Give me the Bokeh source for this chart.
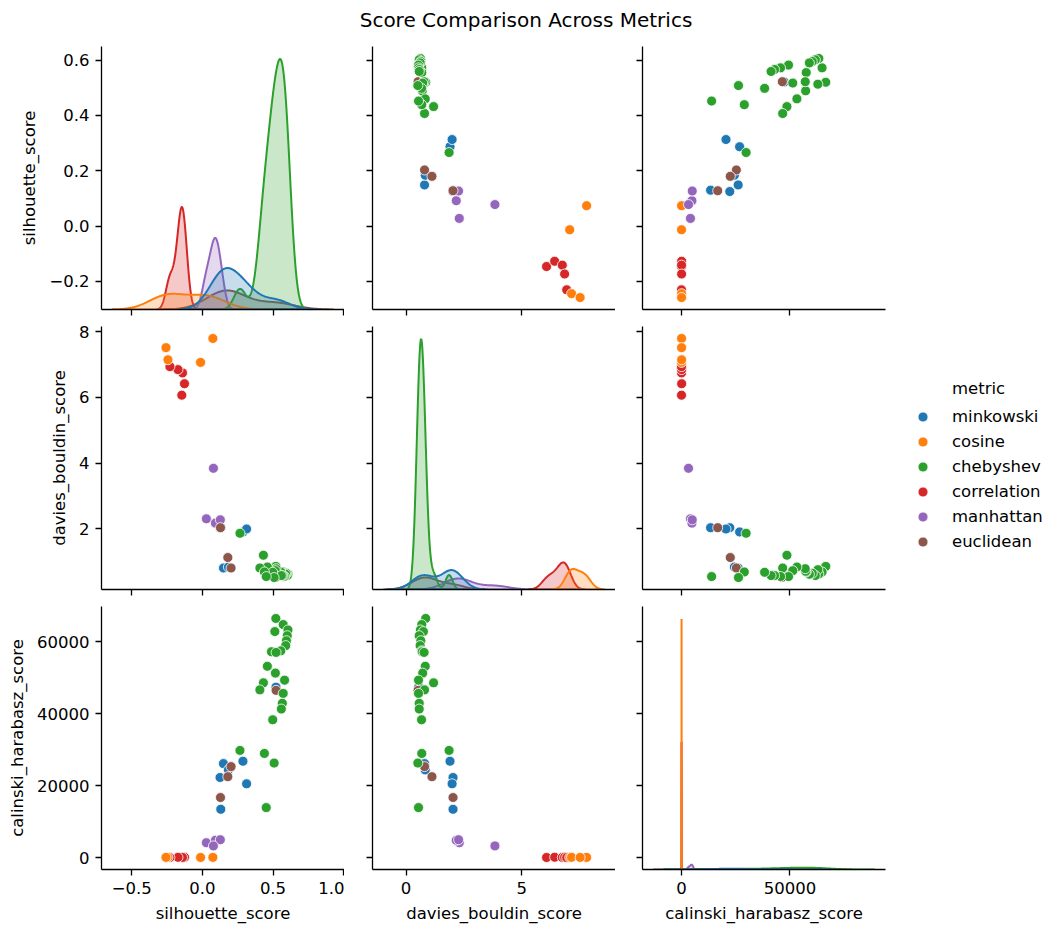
import numpy as np
from bokeh.plotting import figure
from bokeh.models import ColumnDataSource, Range1d, FixedTicker, Legend, LegendItem
from bokeh.layouts import gridplot, column
from bokeh.embed import file_html
from bokeh.resources import INLINE

TITLE = "Score Comparison Across Metrics"
variables = ["silhouette_score", "davies_bouldin_score", "calinski_harabasz_score"]
metrics = ["minkowski", "cosine", "chebyshev", "correlation", "manhattan", "euclidean"]
palette = ["#1f77b4", "#ff7f0e", "#2ca02c", "#d62728", "#9467bd", "#8c564b"]

# ---- data ----
minkowski_sil = [0.149, 0.125, 0.184, 0.287, 0.313, 0.130, 0.521]
minkowski_db = [0.80, 2.03, 0.83, 1.90, 1.99, 2.03, 0.55]
minkowski_ch = [26130, 22270, 24390, 26800, 20520, 13430, 47400]

cosine_sil = [0.074, -0.013, -0.244, -0.258]
cosine_db = [7.80, 7.07, 7.15, 7.52]
cosine_ch = [55, 35, 70, 48]

chebyshev_sil = [0.520, 0.572, 0.606, 0.513, 0.601, 0.595, 0.590, 0.555, 0.489, 0.522,
                 0.460, 0.517, 0.582, 0.432, 0.407, 0.572, 0.566, 0.559, 0.498, 0.266,
                 0.439, 0.508, 0.452]
chebyshev_db = [0.85, 0.68, 0.62, 0.75, 0.57, 0.64, 0.61, 0.68, 0.70, 0.78,
                0.83, 0.72, 0.54, 1.19, 0.80, 0.54, 0.57, 0.57, 0.67, 1.86,
                0.68, 0.51, 0.54]
chebyshev_ch = [66500, 64800, 63300, 62850, 61700, 60300, 58950, 57500, 57240, 57050,
                53200, 51300, 49340, 48600, 46640, 45660, 42900, 41300, 38320, 29800,
                28960, 26280, 13900]

correlation_sil = [-0.146, -0.127, -0.141, -0.173, -0.230]
correlation_db = [6.07, 6.42, 6.75, 6.85, 6.94]
correlation_ch = [20, 95, 40, 70, 10]

manhattan_sil = [0.028, 0.092, 0.127, 0.078]
manhattan_db = [2.30, 2.17, 2.27, 3.84]
manhattan_ch = [4140, 4820, 4970, 3250]

euclidean_sil = [0.203, 0.180, 0.128, 0.522]
euclidean_db = [0.80, 1.12, 2.03, 0.52]
euclidean_ch = [25300, 22500, 16700, 46500]

# tick positions / labels
sil_col_ticks = [-0.5, 0.0, 0.5, 1.0]
sil_col_labels = ["\u22120.5", "0.0", "0.5", "1.0"]
sil_row_ticks = [-0.2, 0.0, 0.2, 0.4, 0.6]
sil_row_labels = ["\u22120.2", "0.0", "0.2", "0.4", "0.6"]
db_col_ticks = [0, 5]
db_col_labels = ["0", "5"]
db_row_ticks = [2, 4, 6, 8]
db_row_labels = ["2", "4", "6", "8"]
ch_col_ticks = [0, 50000]
ch_col_labels = ["0", "50000"]
ch_row_ticks = [0, 20000, 40000, 60000]
ch_row_labels = ["0", "20000", "40000", "60000"]

col_ticks = [(sil_col_ticks, sil_col_labels), (db_col_ticks, db_col_labels), (ch_col_ticks, ch_col_labels)]
row_ticks = [(sil_row_ticks, sil_row_labels), (db_row_ticks, db_row_labels), (ch_row_ticks, ch_row_labels)]

data = {
    "minkowski": (minkowski_sil, minkowski_db, minkowski_ch),
    "cosine": (cosine_sil, cosine_db, cosine_ch),
    "chebyshev": (chebyshev_sil, chebyshev_db, chebyshev_ch),
    "correlation": (correlation_sil, correlation_db, correlation_ch),
    "manhattan": (manhattan_sil, manhattan_db, manhattan_ch),
    "euclidean": (euclidean_sil, euclidean_db, euclidean_ch),
}
color_of = dict(zip(metrics, palette))
draw_order = ["minkowski", "correlation", "cosine", "manhattan", "euclidean", "chebyshev"]

cols = {v: [] for v in variables}
cols["metric"] = []
cols["color"] = []
first_index = {}
for m in draw_order:
    first_index[m] = len(cols["metric"])
    for k, v in enumerate(variables):
        cols[v].extend(data[m][k])
    n = len(data[m][0])
    cols["metric"].extend([m] * n)
    cols["color"].extend([color_of[m]] * n)
src = ColumnDataSource(cols)
N = len(cols["metric"])


def kde(vals, weight):
    v = np.asarray(vals, dtype=float)
    n = len(v)
    bw = v.std(ddof=1) * n ** (-1.0 / 5.0)
    grid = np.linspace(v.min() - 3 * bw, v.max() + 3 * bw, 200)
    dens = np.exp(-0.5 * ((grid[:, None] - v[None, :]) / bw) ** 2).sum(axis=1) / (n * bw * np.sqrt(2 * np.pi))
    return grid, dens * weight


def pad(lo, hi, f=0.05):
    s = hi - lo
    return lo - f * s, hi + f * s


kdes = {}
for k, v in enumerate(variables):
    kdes[v] = {m: kde(data[m][k], len(data[m][k]) / N) for m in metrics}

row_ranges = [Range1d(*pad(min(cols[v]), max(cols[v]))) for v in variables]
col_ranges = []
for v in variables:
    lo = min(min(cols[v]), min(kdes[v][m][0][0] for m in metrics))
    hi = max(max(cols[v]), max(kdes[v][m][0][-1] for m in metrics))
    col_ranges.append(Range1d(*pad(lo, hi)))

FONT = "DejaVu Sans"
FS = "16.5px"
b_left = [101, 28, 27]
b_right = [0, 0, 166]
b_top = [0, 9, 9]
b_bottom = [8, 8, 55]


def style_axis(ax, ticks, labels, show_labels, label_text):
    ax.ticker = FixedTicker(ticks=ticks)
    ax.major_label_overrides = dict(zip(ticks, labels))
    ax.axis_line_color = "black"
    ax.axis_line_width = 1.3
    ax.major_tick_line_color = "black"
    ax.major_tick_line_width = 1.3
    ax.major_tick_out = 6
    ax.major_tick_in = 0
    ax.minor_tick_line_color = None
    ax.major_label_text_font = FONT
    if show_labels:
        ax.major_label_standoff = 6
        ax.major_label_text_color = "black"
        ax.major_label_text_font_size = FS
        ax.axis_label = label_text
        ax.axis_label_text_font = FONT
        ax.axis_label_text_font_size = FS
        ax.axis_label_text_font_style = "normal"
        ax.axis_label_text_color = "black"
        ax.axis_label_standoff = 7
    else:
        ax.major_label_standoff = 0
        ax.major_label_text_font_size = "1px"
        ax.major_label_text_color = None


figs = [[None] * 3 for _ in range(3)]
scatter_r = {}
for i, yv in enumerate(variables):
    for j, xv in enumerate(variables):
        p = figure(frame_width=243, frame_height=263,
                   x_range=col_ranges[j], y_range=row_ranges[i],
                   output_backend="svg", toolbar_location=None, title=None,
                   min_border_left=b_left[j], min_border_right=b_right[j],
                   min_border_top=b_top[i], min_border_bottom=b_bottom[i])
        p.outline_line_color = None
        p.grid.visible = False
        p.background_fill_color = "white"
        p.border_fill_color = "white"
        style_axis(p.xaxis[0], col_ticks[j][0], col_ticks[j][1], i == 2, xv)
        style_axis(p.yaxis[0], row_ticks[i][0], row_ticks[i][1], j == 0, yv)
        if i == j:
            top = max(kdes[xv][m][1].max() for m in metrics) * 1.05
            p.extra_y_ranges = {"kde": Range1d(0, top)}
            for m in reversed(metrics):
                g, d = kdes[xv][m]
                xs = list(g) + list(g[::-1])
                ys = list(d) + [0.0] * len(g)
                ksrc = ColumnDataSource(dict(x=xs, y=ys))
                p.patch("x", "y", source=ksrc, y_range_name="kde",
                        fill_color=color_of[m], fill_alpha=0.25,
                        line_color=color_of[m], line_width=2.0)
        else:
            r = p.scatter(x=xv, y=yv, source=src, size=10, fill_color="color",
                          line_color="white", line_width=0.8)
            scatter_r[(i, j)] = r
        figs[i][j] = p

lp = figs[1][2]
items = [LegendItem(label=m, renderers=[scatter_r[(1, 2)]], index=first_index[m]) for m in metrics]
legend = Legend(items=items, title="\u00a0" * 8 + "metric", location=(25, 35),
                title_text_font=FONT, title_text_font_size=FS, title_text_font_style="normal",
                title_text_color="black",
                label_text_font=FONT, label_text_font_size=FS, label_text_color="black",
                border_line_color=None, background_fill_alpha=0,
                margin=25, padding=5, glyph_width=25, glyph_height=25,
                label_standoff=17, spacing=0, label_height=20, title_standoff=6)
lp.add_layout(legend, "right")

# title strip across the whole width
tf = figure(width=1051, height=46, output_backend="svg", toolbar_location=None,
            title=TITLE, x_axis_location=None, y_axis_location=None,
            min_border_left=0, min_border_right=0, min_border_top=6, min_border_bottom=0)
tf.grid.visible = False
tf.outline_line_color = None
tf.title.text_font = FONT
tf.title.text_font_size = "20px"
tf.title.text_font_style = "normal"
tf.title.text_color = "black"
tf.title.align = "center"

grid = gridplot(figs, toolbar_location=None)
page = column(tf, grid, spacing=0)
open("out.html", "w").write(file_html(page, INLINE))
